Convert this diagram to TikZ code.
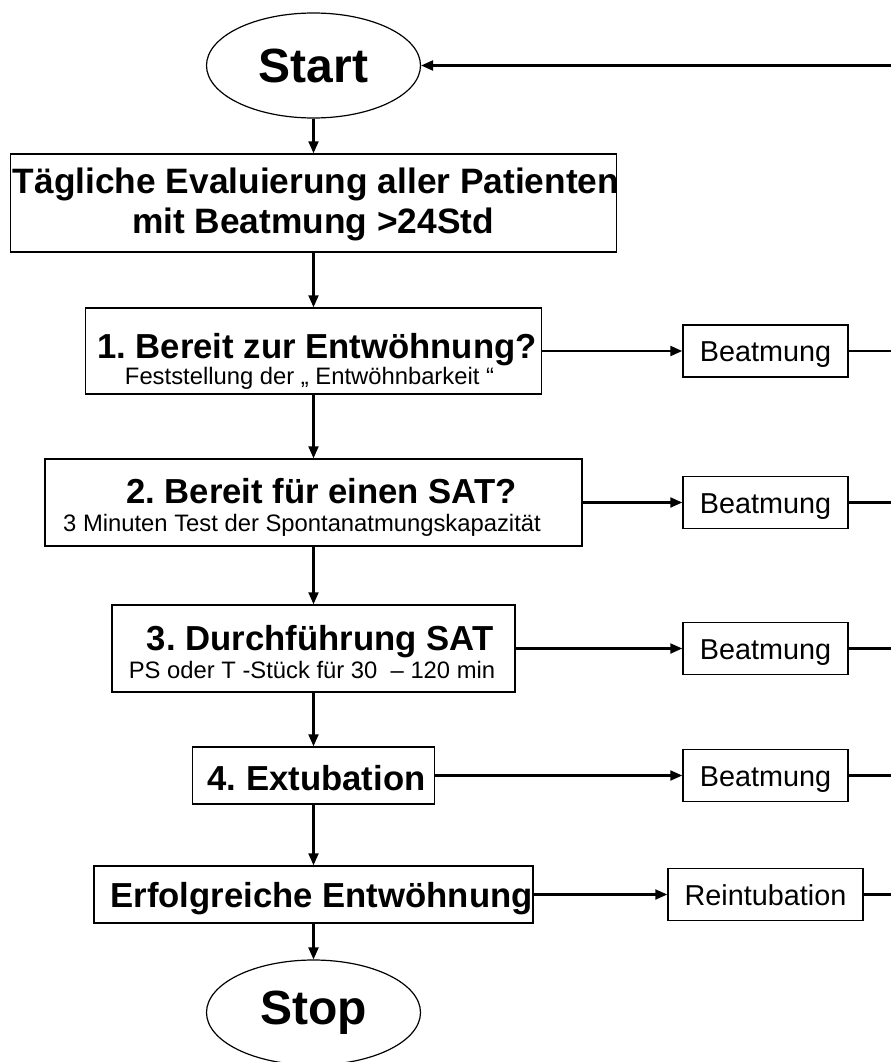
\documentclass[tikz,border=0pt]{standalone}
\usepackage{fontspec}
\setmainfont{Liberation Sans}
\usetikzlibrary{arrows.meta,shapes.geometric}
\frenchspacing
\begin{document}
\begin{tikzpicture}[x=1pt,y=-1pt,
  box/.style={draw,line width=1.5pt,inner sep=0pt},
  oval/.style={draw,ellipse,line width=1.2pt,minimum width=214pt,minimum height=105pt,inner sep=0pt,font=\fontsize{48}{54}\selectfont\bfseries},
  ttl/.style={anchor=base,inner sep=0pt,font=\fontsize{34.7}{40}\selectfont\bfseries},
  bigttl/.style={anchor=base,inner sep=0pt,font=\fontsize{35.3}{40}\selectfont\bfseries},
  subt/.style={anchor=base,inner sep=0pt,font=\fontsize{23.8}{28}\selectfont},
  side/.style={box,font=\fontsize{28.8}{32}\selectfont,minimum height=52pt,text height=21pt,text depth=0pt},
  conn/.style={line width=2.2pt},
  arr/.style={conn,-{Triangle[length=12pt,width=10pt]}},
]
\useasboundingbox (0,0) rectangle (891,1062);
\clip (0,0) rectangle (891,1062);

% main column
\node[oval] (start) at (313.5,65.5) {Start};

\node[box,minimum width=606pt,minimum height=98pt] (b0) at (313.5,203) {};
\node[bigttl] (b0a) at (316,193) {Tägliche Evaluierung aller Patienten};
\node[bigttl] (b0b) at (313,233) {mit Beatmung >24Std};

\node[box,minimum width=456pt,minimum height=86pt] (b1) at (313.5,351) {};
\node[ttl] (b1a) at (317,358) {1. Bereit zur Entwöhnung?};
\node[subt] (b1b) at (309.5,384) {Feststellung der „ Entwöhnbarkeit “};

\node[box,minimum width=537pt,minimum height=87pt] (b2) at (313.5,502.5) {};
\node[ttl] (b2a) at (321.5,503) {2. Bereit für einen SAT?};
\node[subt] (b2b) at (302,531) {3 Minuten Test der Spontanatmungskapazität};

\node[box,minimum width=403pt,minimum height=87pt] (b3) at (313.5,648.5) {};
\node[ttl] (b3a) at (320,650) {3. Durchführung SAT};
\node[subt] (b3b) at (312,678) {PS oder T -Stück für 30~ – 120 min};

\node[box,minimum width=242pt,minimum height=57pt] (b4) at (313.5,775.5) {};
\node[ttl] (b4a) at (316.5,790) {4. Extubation};

\node[box,minimum width=439pt,minimum height=57pt] (b5) at (313.5,894.5) {};
\node[ttl] (b5a) at (321.5,907) {Erfolgreiche Entwöhnung};

\node[oval] (stop) at (313.5,1012.5) {Stop};

% side boxes
\node[side,minimum width=165pt] (m1) at (765.5,351) {Beatmung};
\node[side,minimum width=165pt] (m2) at (765.5,502.5) {Beatmung};
\node[side,minimum width=165pt] (m3) at (765.5,648.5) {Beatmung};
\node[side,minimum width=165pt] (m4) at (765.5,775.5) {Beatmung};
\node[side,minimum width=195pt] (m5) at (765.5,894.5) {Reintubation};

% right edge
\coordinate (r0) at (891,65.5);
\coordinate (r1) at (891,351);
\coordinate (r2) at (891,502.5);
\coordinate (r3) at (891,648.5);
\coordinate (r4) at (891,775.5);
\coordinate (r5) at (891,894.5);

% vertical connectors
\draw[arr] (start) -- (b0);
\draw[arr] (b0) -- (b1);
\draw[arr] (b1) -- (b2);
\draw[arr] (b2) -- (b3);
\draw[arr] (b3) -- (b4);
\draw[arr] (b4) -- (b5);
\draw[arr] (b5) -- (stop);

% horizontal connectors
\draw[arr] (b1.east) -- (m1.west);
\draw[arr] (b2.east) -- (m2.west);
\draw[arr] (b3.east) -- (m3.west);
\draw[arr] (b4.east) -- (m4.west);
\draw[arr] (b5.east) -- (m5.west);
\draw[conn] (m1.east) -- (r1);
\draw[conn] (m2.east) -- (r2);
\draw[conn] (m3.east) -- (r3);
\draw[conn] (m4.east) -- (r4);
\draw[conn] (m5.east) -- (r5);
\draw[arr] (r0) -- (start);
\end{tikzpicture}
\end{document}
